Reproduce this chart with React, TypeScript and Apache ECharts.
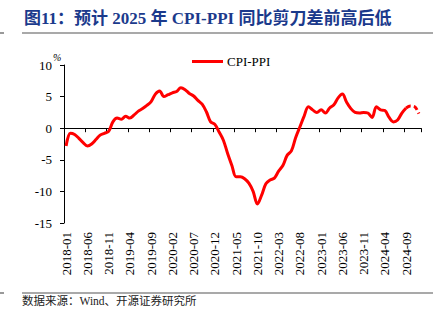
import React, { useEffect, useRef } from "react";
import * as echarts from "echarts";

const startYear = 2018;
const months: string[] = [];
for (let y = startYear; y <= 2024; y++) {
  for (let m = 1; m <= 12; m++) months.push(`${y}-${m < 10 ? "0" + m : m}`);
}
const categories = months; // 2018-01 .. 2024-12

const actual2018 = [-2.8, -0.8, -1.0, -1.6, -2.3, -2.8, -2.5, -1.8, -1.1, -0.8, -0.5, 1.0];
const actual2019 = [1.6, 1.4, 1.9, 1.6, 2.1, 2.7, 3.1, 3.6, 4.2, 5.4, 5.9, 5.0];
const actual2020 = [5.3, 5.6, 5.8, 6.4, 6.1, 5.5, 5.1, 4.4, 3.8, 2.6, 1.0, 0.6];
const actual2021 = [-0.6, -1.9, -4.0, -5.9, -7.7, -7.7, -8.0, -8.7, -10.0, -12.0, -10.6, -8.8];
const actual2022 = [-8.2, -7.9, -6.8, -5.9, -4.3, -3.6, -1.5, 0.2, 1.9, 3.4, 2.9, 2.5];
const actual2023 = [2.9, 2.4, 3.2, 3.7, 4.8, 5.4, 4.1, 3.1, 2.5, 2.4, 2.5, 2.4];
const actual2024 = [1.7, 3.4, 2.9, 2.8, 1.7, 1.0, 1.3, 2.4, 3.2];
const forecastTail = [3.2, 3.5, 3.4, 2.3]; // from 2024-09 to 2024-12

const actualValues = [
  ...actual2018, ...actual2019, ...actual2020, ...actual2021,
  ...actual2022, ...actual2023, ...actual2024,
];
const forecastValues: (number | null)[] = categories.map((_, i) => {
  const k = i - (actualValues.length - 1);
  return k >= 0 && k < forecastTail.length ? forecastTail[k] : null;
});

const yMin = -15;
const yMax = 10;
const yStep = 5;

const titleText = "图11：预计 2025 年 CPI-PPI 同比剪刀差前高后低";
const sourceText = "数据来源：Wind、开源证券研究所";
const seriesName = "CPI-PPI";

export default function App() {
  const ref = useRef<HTMLDivElement>(null);
  useEffect(() => {
    document.body.style.margin = "0";
    if (!ref.current) return;
    const chart = echarts.init(ref.current, undefined, { renderer: "svg" });
    const serif = '"Liberation Serif", "Times New Roman", serif';
    chart.setOption({
      animation: false,
      backgroundColor: "#ffffff",
      grid: { left: 64, right: 23, top: 65, bottom: 100, containLabel: false },
      legend: {
        data: [seriesName],
        left: 192,
        top: 55,
        padding: 0,
        icon: "rect",
        itemWidth: 31,
        itemHeight: 3,
        itemGap: 4,
        textStyle: { fontFamily: serif, fontSize: 13, color: "#000", padding: [0, 0, 0, -1] },
      },
      xAxis: [
        {
          type: "category",
          data: categories,
          position: "bottom",
          boundaryGap: true,
          axisLine: { show: false, onZero: false },
          axisTick: { show: false },
          axisLabel: {
            interval: 4,
            rotate: 90,
            margin: 9,
            fontFamily: serif,
            fontSize: 13,
            color: "#000",
          },
          splitLine: { show: false },
        },
        {
          type: "category",
          data: categories,
          position: "top",
          boundaryGap: true,
          axisLine: { show: true, onZero: true, lineStyle: { color: "#000", width: 1 } },
          axisTick: { show: true, inside: true, interval: 4, length: 4, lineStyle: { color: "#000" } },
          axisLabel: { show: false },
          splitLine: { show: false },
        },
      ],
      yAxis: {
        type: "value",
        min: yMin,
        max: yMax,
        interval: yStep,
        axisLine: { show: true, lineStyle: { color: "#000", width: 1 } },
        axisTick: { show: true, length: 4, lineStyle: { color: "#000" } },
        axisLabel: { margin: 12, fontFamily: serif, fontSize: 13, color: "#000" },
        splitLine: { show: false },
      },
      series: [
        {
          name: seriesName,
          type: "line",
          xAxisIndex: 0,
          data: actualValues,
          smooth: 0.35,
          symbol: "none",
          lineStyle: { color: "#ff0000", width: 3 },
          itemStyle: { color: "#ff0000" },
        },
        {
          name: "预测",
          type: "line",
          xAxisIndex: 0,
          data: forecastValues,
          smooth: 0.35,
          symbol: "none",
          lineStyle: { color: "#ff0000", width: 3, type: [5, 3] },
          itemStyle: { color: "#ff0000" },
        },
      ],
      graphic: [
        {
          type: "text",
          left: 24,
          top: 10,
          style: {
            text: titleText,
            fontFamily: '"Liberation Serif", "Noto Sans CJK SC", serif',
            fontWeight: "bold",
            fontSize: 17,
            fill: "#1b3a8c",
          },
        },
        { type: "line", shape: { x1: 22, y1: 33, x2: 433, y2: 33 }, style: { stroke: "#555", lineWidth: 1.2 } },
        { type: "line", shape: { x1: 0, y1: 33, x2: 4, y2: 33 }, style: { stroke: "#555", lineWidth: 1.2 } },
        { type: "line", shape: { x1: 22, y1: 293, x2: 433, y2: 293 }, style: { stroke: "#555", lineWidth: 1.2 } },
        { type: "line", shape: { x1: 0, y1: 293, x2: 4, y2: 293 }, style: { stroke: "#555", lineWidth: 1.2 } },
        {
          type: "text",
          left: 53,
          top: 52,
          style: { text: "%", fontFamily: serif, fontStyle: "italic", fontSize: 10, fill: "#000" },
        },
        {
          type: "text",
          left: 22,
          top: 295,
          style: {
            text: sourceText,
            fontFamily: '"Liberation Serif", "Noto Sans CJK SC", serif',
            fontSize: 11.5,
            fill: "#222",
          },
        },
      ],
    });
    return () => chart.dispose();
  }, []);
  return <div ref={ref} style={{ width: 444, height: 323 }} />;
}
